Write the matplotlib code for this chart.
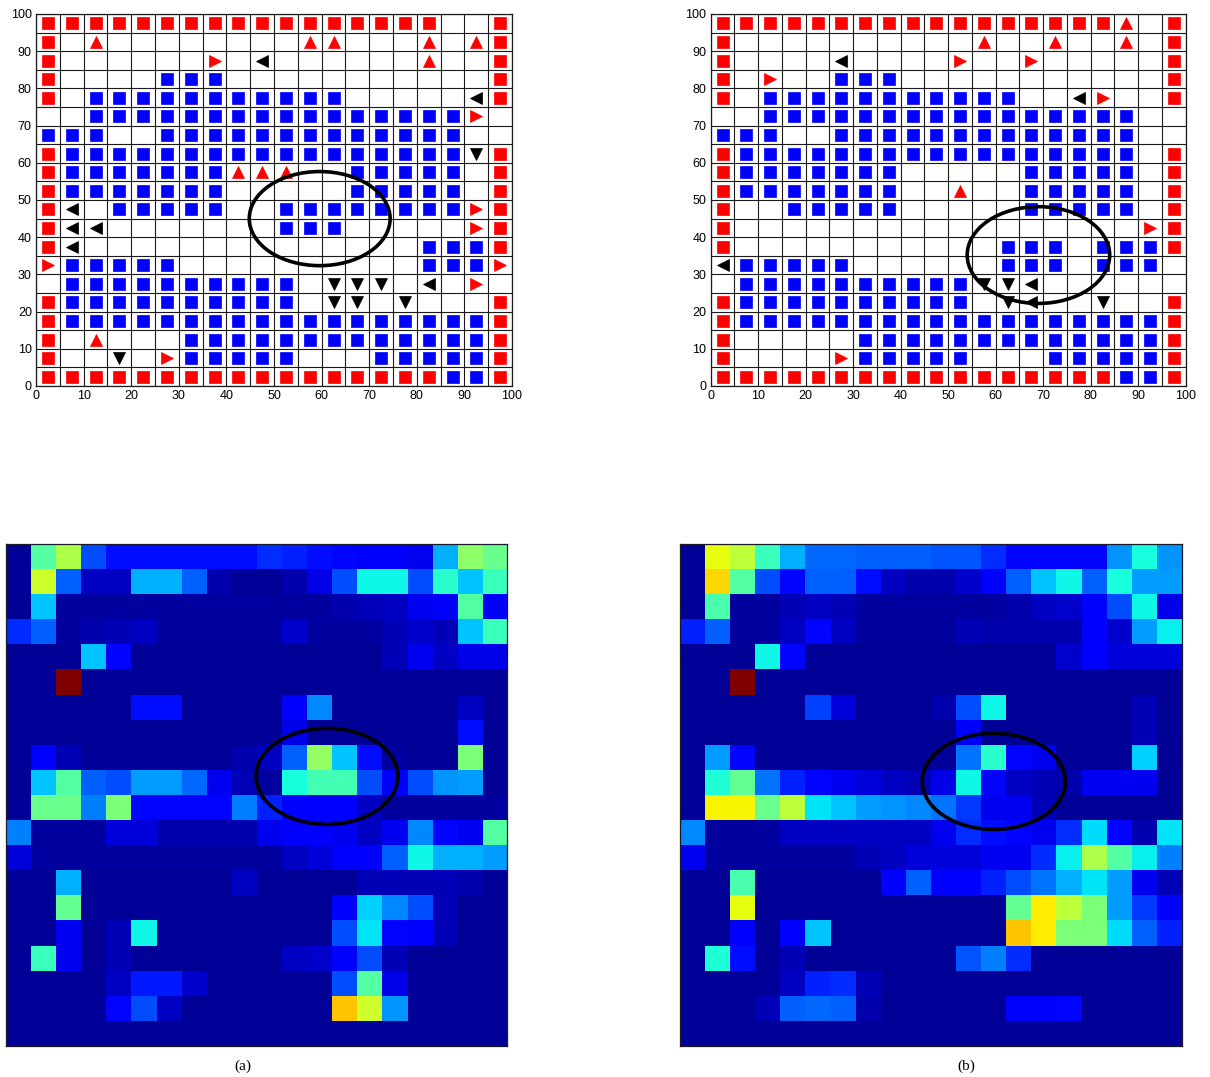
import numpy as np
import matplotlib
matplotlib.use("Agg")
import matplotlib.pyplot as plt
from matplotlib.patches import Ellipse

# ---- top panels: 20x20 cell layouts (rows listed top -> bottom) ----
# R red square, B blue square, u red up-triangle, r red right-triangle,
# L black left-triangle, D black down-triangle, . empty
grid_a = [
    "RRRRRRRRRRRRRRRRR..R",
    "R.u........uu...u.uR",
    "R......r.L......u..R",
    "R....BBB...........R",
    "R.BBBBBBBBBBB.....LR",
    "..BBBBBBBBBBBBBBBBr.",
    "BBB..BBBBBBBBBBBBB..",
    "RBBBBBBBBBBBBBBBBBDR",
    "RBBBBBBBuuu..BBBBB.R",
    "RBBBBBBB.....BBBBB.R",
    "RL.BBBBB..BBBBBBBBrR",
    "RLL.......BBB.....rR",
    "RL..............BBBR",
    "rBBBBB..........BBBr",
    ".BBBBBBBBBB.DDD.L.r.",
    "RBBBBBBBBBB.DD.D...R",
    "RBBBBBBBBBBBBBBBBBBR",
    "R.u...BBBBBBBBBBBBBR",
    "R..D.rBBBBB...BBBBBR",
    "RRRRRRRRRRRRRRRRRBBR",
]
grid_b = [
    "RRRRRRRRRRRRRRRRRu.R",
    "R..........u..u..u.R",
    "R....L....r..r.....R",
    "R.r..BBB...........R",
    "R.BBBBBBBBBBB..Lr..R",
    "..BBBBBBBBBBBBBBBB..",
    "BBB..BBBBBBBBBBBBB..",
    "RBBBBBBBBBBBBBBBBB.R",
    "RBBBBBBB.....BBBBB.R",
    "RBBBBBBB..u..BBBBB.R",
    "R..BBBBB.....BBBBB.R",
    "R.................rR",
    "R...........BBB.BBBR",
    "LBBBBB......BBB.BBB.",
    ".BBBBBBBBBBDDL......",
    "RBBBBBBBBBB.DL..D..R",
    "RBBBBBBBBBBBBBBBBBBR",
    "R.....BBBBBBBBBBBBBR",
    "R....rBBBBB...BBBBBR",
    "RRRRRRRRRRRRRRRRRBBR",
]
# ellipse (center x, center y, width, height) in data units
ellipse_a = (59.6, 45.0, 29.6, 25.3)
ellipse_b = (69.0, 35.2, 30.0, 26.0)
ticks = list(range(0, 101, 10))

# ---- bottom panels: 20x20 intensity maps (rows top -> bottom) ----
heat_a = [
    [0.02, 0.45, 0.56, 0.20, 0.14, 0.14, 0.14, 0.14, 0.14, 0.14, 0.17, 0.16, 0.14, 0.13, 0.12, 0.11, 0.10, 0.30, 0.52, 0.48],
    [0.02, 0.60, 0.22, 0.06, 0.06, 0.30, 0.30, 0.22, 0.04, 0.02, 0.02, 0.04, 0.09, 0.20, 0.37, 0.37, 0.20, 0.40, 0.32, 0.42],
    [0.02, 0.32, 0.03, 0.03, 0.03, 0.03, 0.03, 0.03, 0.03, 0.03, 0.03, 0.03, 0.03, 0.04, 0.05, 0.06, 0.10, 0.12, 0.45, 0.11],
    [0.17, 0.22, 0.03, 0.04, 0.05, 0.06, 0.03, 0.03, 0.03, 0.03, 0.03, 0.07, 0.03, 0.03, 0.03, 0.05, 0.07, 0.05, 0.32, 0.42],
    [0.02, 0.02, 0.02, 0.32, 0.13, 0.02, 0.02, 0.02, 0.02, 0.02, 0.02, 0.02, 0.02, 0.02, 0.02, 0.05, 0.10, 0.06, 0.09, 0.09],
    [0.02, 0.02, 1.00, 0.02, 0.02, 0.02, 0.02, 0.02, 0.02, 0.02, 0.02, 0.02, 0.02, 0.02, 0.02, 0.02, 0.02, 0.02, 0.02, 0.02],
    [0.02, 0.02, 0.02, 0.02, 0.02, 0.14, 0.14, 0.02, 0.02, 0.02, 0.02, 0.12, 0.26, 0.02, 0.02, 0.02, 0.02, 0.02, 0.06, 0.02],
    [0.02, 0.02, 0.02, 0.02, 0.02, 0.02, 0.02, 0.02, 0.02, 0.02, 0.02, 0.09, 0.02, 0.02, 0.02, 0.02, 0.02, 0.02, 0.14, 0.02],
    [0.02, 0.12, 0.05, 0.02, 0.02, 0.02, 0.02, 0.02, 0.02, 0.04, 0.06, 0.22, 0.53, 0.32, 0.14, 0.03, 0.02, 0.02, 0.50, 0.02],
    [0.02, 0.32, 0.45, 0.22, 0.20, 0.28, 0.28, 0.23, 0.10, 0.05, 0.03, 0.38, 0.43, 0.43, 0.20, 0.12, 0.20, 0.27, 0.28, 0.02],
    [0.02, 0.48, 0.48, 0.25, 0.50, 0.13, 0.13, 0.13, 0.13, 0.25, 0.16, 0.11, 0.11, 0.11, 0.06, 0.03, 0.03, 0.03, 0.03, 0.03],
    [0.25, 0.03, 0.03, 0.03, 0.08, 0.08, 0.04, 0.04, 0.04, 0.04, 0.10, 0.12, 0.12, 0.10, 0.06, 0.10, 0.26, 0.13, 0.10, 0.45],
    [0.08, 0.03, 0.03, 0.03, 0.03, 0.03, 0.03, 0.03, 0.03, 0.03, 0.03, 0.06, 0.08, 0.12, 0.12, 0.22, 0.37, 0.30, 0.30, 0.28],
    [0.02, 0.02, 0.30, 0.02, 0.02, 0.02, 0.02, 0.02, 0.02, 0.06, 0.02, 0.02, 0.02, 0.02, 0.05, 0.05, 0.05, 0.05, 0.04, 0.02],
    [0.02, 0.02, 0.47, 0.02, 0.02, 0.02, 0.02, 0.02, 0.02, 0.02, 0.02, 0.02, 0.02, 0.11, 0.33, 0.26, 0.20, 0.05, 0.02, 0.02],
    [0.02, 0.02, 0.10, 0.02, 0.05, 0.37, 0.02, 0.02, 0.02, 0.02, 0.02, 0.02, 0.02, 0.20, 0.35, 0.13, 0.12, 0.05, 0.02, 0.02],
    [0.02, 0.42, 0.10, 0.02, 0.05, 0.02, 0.02, 0.02, 0.02, 0.02, 0.02, 0.06, 0.07, 0.12, 0.20, 0.05, 0.02, 0.02, 0.02, 0.02],
    [0.02, 0.02, 0.02, 0.02, 0.06, 0.15, 0.15, 0.07, 0.02, 0.02, 0.02, 0.02, 0.02, 0.20, 0.45, 0.09, 0.02, 0.02, 0.02, 0.02],
    [0.02, 0.02, 0.02, 0.02, 0.13, 0.20, 0.06, 0.02, 0.02, 0.02, 0.02, 0.02, 0.02, 0.70, 0.60, 0.27, 0.02, 0.02, 0.02, 0.02],
    [0.02] * 20,
]
heat_b = [
    [0.02, 0.63, 0.58, 0.42, 0.30, 0.23, 0.23, 0.22, 0.22, 0.22, 0.21, 0.21, 0.17, 0.13, 0.13, 0.13, 0.13, 0.27, 0.38, 0.27],
    [0.02, 0.68, 0.45, 0.20, 0.13, 0.22, 0.22, 0.14, 0.06, 0.04, 0.04, 0.07, 0.12, 0.22, 0.32, 0.37, 0.22, 0.38, 0.28, 0.28],
    [0.02, 0.44, 0.03, 0.03, 0.05, 0.06, 0.05, 0.03, 0.03, 0.03, 0.03, 0.03, 0.03, 0.04, 0.06, 0.07, 0.12, 0.20, 0.37, 0.09],
    [0.16, 0.22, 0.03, 0.03, 0.06, 0.13, 0.06, 0.03, 0.03, 0.03, 0.03, 0.05, 0.04, 0.04, 0.04, 0.04, 0.11, 0.07, 0.28, 0.36],
    [0.02, 0.02, 0.02, 0.37, 0.13, 0.02, 0.02, 0.02, 0.02, 0.02, 0.02, 0.02, 0.02, 0.02, 0.02, 0.07, 0.12, 0.08, 0.08, 0.08],
    [0.02, 0.02, 1.00, 0.02, 0.02, 0.02, 0.02, 0.02, 0.02, 0.02, 0.02, 0.02, 0.02, 0.02, 0.02, 0.02, 0.02, 0.02, 0.02, 0.02],
    [0.02, 0.02, 0.02, 0.02, 0.02, 0.19, 0.08, 0.02, 0.02, 0.02, 0.04, 0.20, 0.37, 0.02, 0.02, 0.02, 0.02, 0.02, 0.05, 0.02],
    [0.02, 0.02, 0.02, 0.02, 0.02, 0.02, 0.02, 0.02, 0.02, 0.02, 0.02, 0.12, 0.02, 0.02, 0.02, 0.02, 0.02, 0.02, 0.05, 0.02],
    [0.02, 0.28, 0.13, 0.02, 0.02, 0.02, 0.02, 0.02, 0.02, 0.02, 0.02, 0.24, 0.40, 0.13, 0.10, 0.02, 0.02, 0.02, 0.33, 0.02],
    [0.02, 0.39, 0.47, 0.24, 0.16, 0.13, 0.10, 0.08, 0.06, 0.05, 0.09, 0.37, 0.13, 0.06, 0.05, 0.04, 0.10, 0.10, 0.10, 0.02],
    [0.02, 0.65, 0.65, 0.48, 0.58, 0.35, 0.32, 0.28, 0.27, 0.26, 0.24, 0.18, 0.10, 0.10, 0.05, 0.02, 0.02, 0.02, 0.02, 0.02],
    [0.26, 0.03, 0.03, 0.03, 0.06, 0.06, 0.06, 0.06, 0.06, 0.06, 0.10, 0.17, 0.14, 0.13, 0.10, 0.17, 0.34, 0.13, 0.04, 0.35],
    [0.10, 0.03, 0.03, 0.03, 0.03, 0.03, 0.03, 0.05, 0.06, 0.08, 0.08, 0.08, 0.10, 0.10, 0.17, 0.36, 0.56, 0.45, 0.36, 0.25],
    [0.02, 0.02, 0.44, 0.02, 0.02, 0.02, 0.02, 0.02, 0.12, 0.22, 0.11, 0.11, 0.16, 0.20, 0.24, 0.30, 0.35, 0.28, 0.10, 0.05],
    [0.02, 0.02, 0.63, 0.02, 0.02, 0.02, 0.02, 0.02, 0.02, 0.02, 0.02, 0.02, 0.02, 0.47, 0.66, 0.58, 0.50, 0.28, 0.18, 0.12],
    [0.02, 0.02, 0.12, 0.02, 0.11, 0.32, 0.02, 0.02, 0.02, 0.02, 0.02, 0.02, 0.02, 0.70, 0.66, 0.50, 0.50, 0.34, 0.22, 0.16],
    [0.02, 0.39, 0.14, 0.02, 0.05, 0.02, 0.02, 0.02, 0.02, 0.02, 0.02, 0.21, 0.25, 0.17, 0.02, 0.02, 0.02, 0.02, 0.02, 0.02],
    [0.02, 0.02, 0.02, 0.02, 0.06, 0.16, 0.17, 0.05, 0.02, 0.02, 0.02, 0.02, 0.02, 0.02, 0.02, 0.02, 0.02, 0.02, 0.02, 0.02],
    [0.02, 0.02, 0.02, 0.05, 0.22, 0.23, 0.22, 0.04, 0.02, 0.02, 0.02, 0.02, 0.02, 0.12, 0.12, 0.13, 0.02, 0.02, 0.02, 0.02],
    [0.02] * 20,
]
# ellipse on the maps (center col, center row, width, height) in cell units
heat_ellipse_a = (12.81, 9.25, 5.66, 3.83)
heat_ellipse_b = (12.50, 9.45, 5.71, 3.83)
panel_labels = ["(a)", "(b)"]

styles = {
    "R": dict(marker="s", color="#ff0000", ms=8.3),
    "B": dict(marker="s", color="#0000ff", ms=8.3),
    "u": dict(marker="^", color="#ff0000", ms=9.0),
    "r": dict(marker=">", color="#ff0000", ms=9.0),
    "L": dict(marker="<", color="#000000", ms=9.0),
    "D": dict(marker="v", color="#000000", ms=9.0),
}

W, H = 1210, 1077
fig = plt.figure(figsize=(W / 100, H / 100), dpi=100)
fig.patch.set_facecolor("white")


def top_panel(rect, grid, ell):
    ax = fig.add_axes(rect)
    ax.set_xlim(0, 100)
    ax.set_ylim(0, 100)
    ax.set_xticks(ticks)
    ax.set_yticks(ticks)
    ax.set_xticks(np.arange(5, 100, 10), minor=True)
    ax.set_yticks(np.arange(5, 100, 10), minor=True)
    ax.grid(which="both", color="#1a1a1a", lw=0.8)
    ax.set_axisbelow(True)
    ax.tick_params(which="both", direction="in", length=0, labelsize=9, pad=3)
    for lab in ax.get_xticklabels() + ax.get_yticklabels():
        lab.set_family("Liberation Sans")
    for s in ax.spines.values():
        s.set_linewidth(0.9)
        s.set_color("#1a1a1a")
    for code, st in styles.items():
        xs, ys = [], []
        for i, line in enumerate(grid):
            for j, ch in enumerate(line):
                if ch == code:
                    xs.append(2.5 + 5 * j)
                    ys.append(97.5 - 5 * i)
        ax.plot(xs, ys, ls="none", marker=st["marker"], ms=st["ms"],
                mfc=st["color"], mec=st["color"], mew=0.5, zorder=3)
    ax.add_patch(Ellipse((ell[0], ell[1]), ell[2], ell[3], fill=False,
                         lw=2.6, ec="black", zorder=4))
    return ax


top_panel([36 / W, 1 - 386 / H, 476 / W, 372 / H], grid_a, ellipse_a)
top_panel([710.7 / W, 1 - 386 / H, 475 / W, 372 / H], grid_b, ellipse_b)


def heat_panel(rect, data, ell):
    ax = fig.add_axes(rect)
    ax.imshow(np.array(data), cmap="jet", vmin=0, vmax=1,
              extent=(0, 20, 20, 0), interpolation="nearest", aspect="auto")
    ax.set_xticks([])
    ax.set_yticks([])
    for s in ax.spines.values():
        s.set_linewidth(0.9)
        s.set_color("#1a1a2a")
    ax.add_patch(Ellipse((ell[0], ell[1]), ell[2], ell[3], fill=False,
                         lw=2.6, ec="black", zorder=4, clip_on=False))
    return ax


heat_panel([5.7 / W, 1 - 1046 / H, 501.6 / W, 501.7 / H], heat_a, heat_ellipse_a)
heat_panel([680.3 / W, 1 - 1046 / H, 501.7 / W, 501.7 / H], heat_b, heat_ellipse_b)

fig.text(243 / W, 1 - 1066 / H, panel_labels[0], ha="center", va="center",
         fontsize=11, family="Liberation Serif")
fig.text(966 / W, 1 - 1066 / H, panel_labels[1], ha="center", va="center",
         fontsize=11, family="Liberation Serif")

fig.savefig("out.png", dpi=100)
